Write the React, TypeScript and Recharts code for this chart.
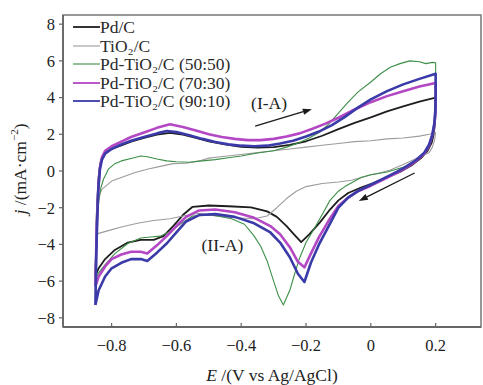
import React from 'react';
import { LineChart, Line, XAxis, YAxis, ReferenceLine, ReferenceDot, ReferenceArea, Legend } from 'recharts';

const FONT = '"Liberation Serif", "Times New Roman", serif';

// ---------- data ----------
const xTicks = [-0.8, -0.6, -0.4, -0.2, 0, 0.2];
const yTicks = [-8, -6, -4, -2, 0, 2, 4, 6, 8];
const xDomain = [-0.95, 0.34];
const yDomain = [-8.5, 8.5];

const seriesNames = ['Pd/C', 'TiO\u2082/C', 'Pd-TiO\u2082/C (50:50)', 'Pd-TiO\u2082/C (70:30)', 'Pd-TiO\u2082/C (90:10)'];

// [E (V), j (mA/cm2)] — forward scan then reverse scan
const pdC: number[][] = [
  [-0.85, -5.7], [-0.847, -3.6], [-0.844, -1.6], [-0.84, -0.3], [-0.835, 0.4], [-0.828, 0.8], [-0.815, 1.05], [-0.8, 1.2],
  [-0.77, 1.4], [-0.74, 1.6], [-0.7, 1.8], [-0.66, 1.98], [-0.62, 2.08], [-0.58, 1.98], [-0.54, 1.8], [-0.5, 1.62],
  [-0.45, 1.45], [-0.4, 1.32], [-0.35, 1.27], [-0.3, 1.3], [-0.25, 1.42], [-0.2, 1.62], [-0.15, 1.92], [-0.1, 2.28],
  [-0.05, 2.62], [0, 2.92], [0.05, 3.25], [0.1, 3.52], [0.15, 3.78], [0.2, 4.0],
  [0.2, 3.3], [0.198, 2.6], [0.194, 2.0], [0.188, 1.55], [0.175, 1.1], [0.155, 0.7], [0.125, 0.3], [0.09, -0.05],
  [0.05, -0.35], [0.01, -0.65], [-0.03, -0.9], [-0.07, -1.2], [-0.1, -1.6], [-0.126, -2.1], [-0.157, -2.8],
  [-0.19, -3.45], [-0.215, -3.88], [-0.24, -3.4], [-0.26, -3.0], [-0.29, -2.5], [-0.32, -2.2], [-0.37, -1.98],
  [-0.44, -1.92], [-0.5, -1.88], [-0.55, -1.95], [-0.58, -2.4], [-0.61, -3.0], [-0.64, -3.55], [-0.67, -3.75],
  [-0.71, -3.75], [-0.75, -3.9], [-0.79, -4.3], [-0.82, -4.8], [-0.84, -5.3], [-0.85, -5.7],
];

const tio2C: number[][] = [
  [-0.85, -3.45], [-0.848, -2.5], [-0.845, -1.8], [-0.84, -1.4], [-0.83, -1.0], [-0.8, -0.55], [-0.77, -0.35],
  [-0.73, -0.1], [-0.69, 0.1], [-0.65, 0.25], [-0.61, 0.4], [-0.57, 0.42], [-0.53, 0.55], [-0.5, 0.7], [-0.45, 0.8],
  [-0.4, 0.9], [-0.35, 1.0], [-0.3, 1.1], [-0.25, 1.2], [-0.2, 1.3], [-0.15, 1.4], [-0.1, 1.5], [-0.05, 1.6],
  [0, 1.65], [0.05, 1.75], [0.1, 1.8], [0.15, 1.9], [0.18, 2.0], [0.2, 2.1],
  [0.197, 1.7], [0.19, 1.3], [0.18, 1.0], [0.16, 0.85], [0.13, 0.6], [0.1, 0.35], [0.06, 0.05], [0.03, -0.1],
  [0, -0.2], [-0.03, -0.35], [-0.06, -0.5], [-0.1, -0.6], [-0.15, -0.68], [-0.2, -0.85], [-0.23, -1.1],
  [-0.26, -1.5], [-0.29, -2.0], [-0.32, -2.45], [-0.36, -2.6], [-0.42, -2.55], [-0.48, -2.45], [-0.53, -2.3],
  [-0.58, -2.45], [-0.62, -2.6], [-0.67, -2.7], [-0.72, -2.85], [-0.77, -3.05], [-0.81, -3.25], [-0.84, -3.4],
  [-0.85, -3.45],
];

const pdTi5050: number[][] = [
  [-0.85, -5.9], [-0.848, -4.2], [-0.845, -2.8], [-0.84, -1.7], [-0.833, -0.9], [-0.825, -0.45], [-0.81, 0.1],
  [-0.79, 0.4], [-0.77, 0.55], [-0.74, 0.68], [-0.71, 0.82], [-0.69, 0.78], [-0.66, 0.65], [-0.63, 0.55],
  [-0.6, 0.5], [-0.56, 0.48], [-0.52, 0.55], [-0.48, 0.62], [-0.44, 0.72], [-0.4, 0.82], [-0.35, 0.98],
  [-0.3, 1.1], [-0.26, 1.3], [-0.22, 1.55], [-0.19, 1.8], [-0.16, 2.1], [-0.13, 2.55], [-0.1, 3.15],
  [-0.07, 3.75], [-0.04, 4.3], [0, 4.85], [0.03, 5.3], [0.06, 5.65], [0.09, 5.85], [0.12, 6.0], [0.15, 5.95],
  [0.17, 5.85], [0.19, 5.92], [0.2, 5.9],
  [0.2, 4.6], [0.199, 3.6], [0.196, 2.7], [0.19, 1.95], [0.18, 1.35], [0.16, 0.85], [0.13, 0.45], [0.1, 0.2],
  [0.05, -0.05], [0, -0.2], [-0.03, -0.35], [-0.055, -0.6], [-0.08, -0.85], [-0.1, -1.1], [-0.126, -1.6],
  [-0.148, -2.3], [-0.17, -3.0], [-0.2, -3.9], [-0.22, -4.75], [-0.235, -5.6], [-0.25, -6.5], [-0.27, -7.3],
  [-0.285, -6.8], [-0.3, -6.0], [-0.32, -4.9], [-0.34, -4.1], [-0.36, -3.55], [-0.39, -2.9], [-0.43, -2.6],
  [-0.49, -2.4], [-0.55, -2.45], [-0.58, -2.8], [-0.62, -3.3], [-0.65, -3.55], [-0.68, -3.6], [-0.71, -3.65],
  [-0.75, -3.95], [-0.79, -4.5], [-0.82, -5.1], [-0.84, -5.55], [-0.85, -5.9],
];

const pdTi7030: number[][] = [
  [-0.85, -6.3], [-0.848, -4.6], [-0.845, -2.7], [-0.841, -0.9], [-0.836, 0.2], [-0.83, 0.75], [-0.82, 1.1],
  [-0.8, 1.35], [-0.77, 1.6], [-0.74, 1.85], [-0.7, 2.1], [-0.66, 2.35], [-0.62, 2.55], [-0.58, 2.4],
  [-0.54, 2.2], [-0.5, 2.0], [-0.46, 1.85], [-0.42, 1.75], [-0.38, 1.68], [-0.34, 1.68], [-0.3, 1.75],
  [-0.26, 1.88], [-0.22, 2.05], [-0.18, 2.3], [-0.14, 2.58], [-0.1, 2.9], [-0.05, 3.35], [0, 3.75],
  [0.05, 4.08], [0.1, 4.35], [0.15, 4.6], [0.2, 4.8],
  [0.2, 3.9], [0.199, 3.1], [0.196, 2.5], [0.19, 1.95], [0.18, 1.4], [0.165, 0.95], [0.14, 0.55], [0.11, 0.2],
  [0.08, -0.1], [0.04, -0.45], [0, -0.8], [-0.04, -1.1], [-0.07, -1.45], [-0.1, -1.9], [-0.13, -2.7],
  [-0.16, -3.6], [-0.185, -4.5], [-0.205, -5.25], [-0.225, -4.95], [-0.25, -4.15], [-0.28, -3.45],
  [-0.31, -3.0], [-0.36, -2.55], [-0.42, -2.25], [-0.48, -2.1], [-0.53, -2.15], [-0.57, -2.5], [-0.6, -3.0],
  [-0.63, -3.55], [-0.66, -4.05], [-0.69, -4.5], [-0.71, -4.4], [-0.74, -4.4], [-0.77, -4.55], [-0.8, -4.8],
  [-0.82, -5.2], [-0.84, -5.75], [-0.85, -6.3],
];

const pdTi9010: number[][] = [
  [-0.85, -7.3], [-0.848, -5.2], [-0.845, -3.0], [-0.841, -1.0], [-0.836, 0.1], [-0.83, 0.6], [-0.82, 0.95],
  [-0.8, 1.2], [-0.77, 1.45], [-0.74, 1.65], [-0.7, 1.85], [-0.66, 2.05], [-0.63, 2.18], [-0.6, 2.12],
  [-0.56, 1.95], [-0.52, 1.75], [-0.48, 1.58], [-0.44, 1.45], [-0.4, 1.38], [-0.36, 1.35], [-0.32, 1.38],
  [-0.28, 1.5], [-0.24, 1.65], [-0.2, 1.88], [-0.16, 2.15], [-0.12, 2.5], [-0.08, 2.95], [-0.04, 3.45],
  [0, 3.9], [0.05, 4.35], [0.1, 4.72], [0.15, 5.02], [0.2, 5.3],
  [0.2, 4.2], [0.199, 3.3], [0.196, 2.6], [0.19, 2.0], [0.18, 1.45], [0.165, 1.0], [0.14, 0.6], [0.11, 0.25],
  [0.08, -0.05], [0.04, -0.4], [0, -0.75], [-0.04, -1.1], [-0.07, -1.45], [-0.1, -2.0], [-0.13, -3.0],
  [-0.16, -4.0], [-0.185, -5.0], [-0.205, -6.05], [-0.225, -5.6], [-0.25, -4.7], [-0.28, -3.9], [-0.31, -3.35],
  [-0.36, -2.85], [-0.42, -2.5], [-0.48, -2.35], [-0.53, -2.4], [-0.57, -2.75], [-0.6, -3.35], [-0.63, -3.95],
  [-0.66, -4.45], [-0.69, -4.9], [-0.71, -4.8], [-0.74, -4.8], [-0.77, -5.0], [-0.8, -5.3], [-0.82, -5.75],
  [-0.84, -6.5], [-0.85, -7.3],
];

// annotations (data coordinates)
const arrowIA = [[-0.357, 2.45], [-0.182, 3.37]];
const arrowIIA = [[0.135, -0.11], [-0.037, -1.63]];
const labelIA = { text: '(I-A)', E: -0.314, j: 3.7 };
const labelIIA = { text: '(II-A)', E: -0.458, j: -4.0 };

// ---------- styles ----------
const seriesData = [pdC, tio2C, pdTi5050, pdTi7030, pdTi9010];
const seriesStyle = [
  { color: '#1e1e1e', width: 1.8 },
  { color: '#9c9c9c', width: 1.1 },
  { color: '#3d8f48', width: 1.1 },
  { color: '#b447c4', width: 2.6 },
  { color: '#3a3aa8', width: 2.6 },
];

const toRows = (pts: number[][]) => pts.map(([E, j]) => ({ E, j }));
const fmt = (v: number) => (v === 0 ? '0' : String(v).replace('-', '\u2212'));

const LegendContent = () => (
  <div style={{ fontFamily: FONT, fontSize: 17.5, color: '#2a2a2a', lineHeight: 1 }}>
    {seriesNames.map((n, i) => (
      <div key={n} style={{ display: 'flex', alignItems: 'center', height: 18.5, whiteSpace: 'nowrap' }}>
        <svg width={27} height={6} style={{ display: 'block' }}>
          <line x1={0} y1={3} x2={27} y2={3} stroke={seriesStyle[i].color} strokeWidth={Math.min(seriesStyle[i].width, 1.8)} />
        </svg>
        <span style={{ lineHeight: '16px' }}>{n}</span>
      </div>
    ))}
  </div>
);

const ArrowShape = (props: any) => {
  const { x1, y1, x2, y2 } = props;
  if (![x1, y1, x2, y2].every((v) => typeof v === 'number' && isFinite(v))) return <g />;
  const ang = Math.atan2(y2 - y1, x2 - x1);
  const L = 9;
  const W = 3.2;
  const bx = x2 - L * Math.cos(ang);
  const by = y2 - L * Math.sin(ang);
  const pts = `${x2},${y2} ${bx + W * Math.sin(ang)},${by - W * Math.cos(ang)} ${bx - W * Math.sin(ang)},${by + W * Math.cos(ang)}`;
  return (
    <g>
      <line x1={x1} y1={y1} x2={bx} y2={by} stroke="#1a1a1a" strokeWidth={1.3} />
      <polygon points={pts} fill="#1a1a1a" />
    </g>
  );
};

const XTick = (props: any) => {
  const { x, y, payload } = props;
  const axisY = y - 12;
  return (
    <g>
      <line x1={x} y1={axisY} x2={x} y2={axisY - 4} stroke="#666" strokeWidth={1.2} />
      <text x={x} y={y} dy="0.71em" textAnchor="middle" fontFamily={FONT} fontSize={16.5} fill="#222">
        {fmt(payload.value)}
      </text>
    </g>
  );
};

const YLabel = (props: any) => {
  const vb = props.viewBox || { x: 0, y: 15, width: 63, height: 312 };
  const cx = 20;
  const cy = vb.y + vb.height / 2 - 2;
  return (
    <text x={cx} y={cy} transform={`rotate(-90, ${cx}, ${cy})`} textAnchor="middle" dominantBaseline="central"
      fontFamily={FONT} fontSize={17.5} fill="#222">
      <tspan fontStyle="italic">j</tspan>
      <tspan> /(mA·cm</tspan>
      <tspan dy={-6} fontSize={11}>{'\u22122'}</tspan>
      <tspan dy={6}>)</tspan>
    </text>
  );
};

const XLabel = (props: any) => {
  const vb = props.viewBox || { x: 63, y: 327, width: 418, height: 58 };
  const cx = vb.x + vb.width / 2;
  return (
    <text x={cx} y={381} textAnchor="middle" fontFamily={FONT} fontSize={17.5} fill="#222">
      <tspan fontStyle="italic">E</tspan>
      <tspan> /(V vs Ag/AgCl)</tspan>
    </text>
  );
};

export default function App() {
  return (
    <div style={{ position: 'absolute', left: 0, top: 0, width: 483, height: 385, background: '#fff' }}>
      <LineChart width={483} height={385} margin={{ top: 15, right: 2, bottom: 0, left: 0 }}>
        <ReferenceArea x1={xDomain[0]} x2={xDomain[1]} y1={yDomain[0]} y2={yDomain[1]}
          fill="none" stroke="#777" strokeWidth={1.5} ifOverflow="visible" />
        <XAxis
          type="number"
          dataKey="E"
          domain={xDomain}
          ticks={xTicks}
          allowDataOverflow
          height={58}
          tickSize={0}
          tickMargin={12}
          tickLine={false}
          axisLine={{ stroke: '#666', strokeWidth: 1.8 }}
          tick={<XTick />}
          label={{ content: <XLabel /> }}
        />
        <YAxis
          type="number"
          dataKey="j"
          domain={yDomain}
          ticks={yTicks}
          allowDataOverflow
          width={63}
          tickSize={4}
          tickMargin={4}
          tickFormatter={fmt}
          tickLine={{ stroke: '#666', strokeWidth: 1.2 }}
          axisLine={{ stroke: '#666', strokeWidth: 1.8 }}
          tick={{ fontFamily: FONT, fontSize: 16.5, fill: '#222' }}
          label={{ content: <YLabel /> }}
        />
        {seriesData.map((pts, i) => (
          <Line
            key={seriesNames[i]}
            name={seriesNames[i]}
            data={toRows(pts)}
            dataKey="j"
            type="linear"
            stroke={seriesStyle[i].color}
            strokeWidth={seriesStyle[i].width}
            strokeLinejoin="round"
            dot={false}
            activeDot={false}
            isAnimationActive={false}
          />
        ))}
        <ReferenceLine segment={arrowIA.map(([E, j]) => ({ x: E, y: j }))} shape={ArrowShape} ifOverflow="visible" />
        <ReferenceLine segment={arrowIIA.map(([E, j]) => ({ x: E, y: j }))} shape={ArrowShape} ifOverflow="visible" />
        {[labelIA, labelIIA].map((l) => (
          <ReferenceDot key={l.text} x={l.E} y={l.j} r={0} fill="none" stroke="none" ifOverflow="visible"
            label={{ value: l.text, position: 'center', fill: '#222', fontSize: 17.5, fontFamily: FONT }} />
        ))}
        <Legend
          layout="vertical"
          align="center"
          verticalAlign="middle"
          wrapperStyle={{ left: 73, top: 18, width: 230, height: 95 }}
          content={<LegendContent />}
        />
      </LineChart>
    </div>
  );
}
